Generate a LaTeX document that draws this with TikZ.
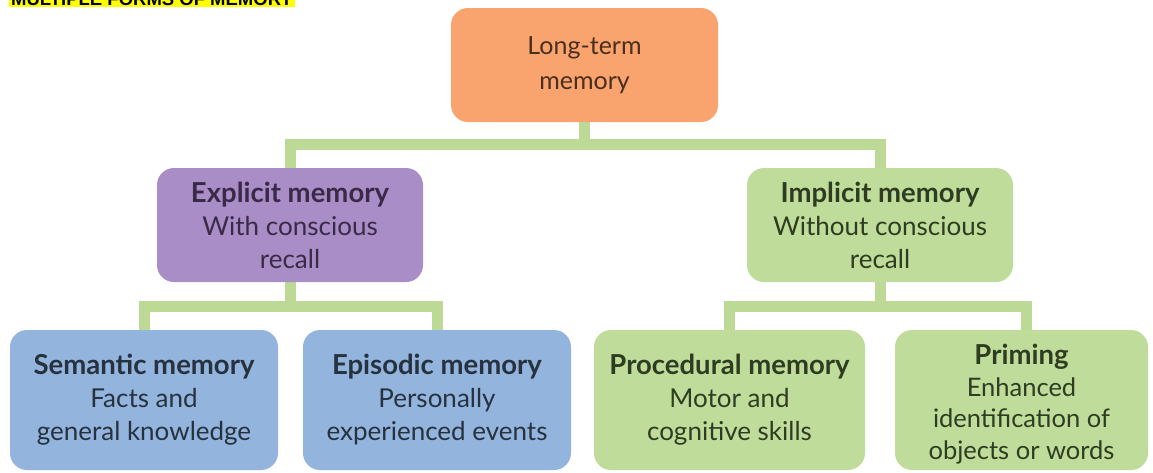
\documentclass[tikz,border=0pt]{standalone}
\usepackage{fontspec}
\setmainfont{Lato}
\newfontfamily\titlefont{Liberation Sans}
\usetikzlibrary{backgrounds}
\definecolor{orangeF}{HTML}{F9A46E}
\definecolor{purpleF}{HTML}{A98DC6}
\definecolor{blueF}{HTML}{93B4DD}
\definecolor{greenF}{HTML}{C0DC9A}
\definecolor{connC}{HTML}{BCD996}
\definecolor{orangeT}{HTML}{4A2E1E}
\definecolor{purpleT}{HTML}{3A2A48}
\definecolor{blueT}{HTML}{27323F}
\definecolor{greenT}{HTML}{2E3D22}
\definecolor{hiY}{HTML}{FFFF00}
\newcommand{\hd}[1]{{\fontsize{27.5}{33}\selectfont\bfseries #1}}
\tikzset{
  box/.style={rounded corners=17pt, inner sep=0pt, align=center,
    font=\fontsize{26}{33}\selectfont},
  conn/.style={draw=connC, line width=11pt, line join=miter, line cap=butt},
}
\begin{document}
\begin{tikzpicture}[x=1pt,y=-1pt]
\useasboundingbox (0,0) rectangle (1153,472);
\clip (0,0) rectangle (1153,472);
\node[fill=hiY, anchor=south west, inner xsep=2pt, inner ysep=2pt,
  font=\titlefont\bfseries\fontsize{18.5}{18.5}\selectfont, text depth=0pt] (title) at (9,7.5) {MULTIPLE FORMS OF MEMORY};
\node[box, fill=orangeF, text=orangeT, minimum width=267pt, minimum height=114pt,
  font=\fontsize{25}{35}\selectfont] (top) at (584.5,65) {Long-term\\memory};
\node[box, fill=purpleF, text=purpleT, minimum width=266pt, minimum height=114pt] (explicit) at (290,225)
  {\hd{Explicit memory}\\With conscious\\recall};
\node[box, fill=greenF, text=greenT, minimum width=266pt, minimum height=114pt] (implicit) at (880,225)
  {\hd{Implicit memory}\\Without conscious\\recall};
\node[box, fill=blueF, text=blueT, minimum width=268pt, minimum height=140pt] (semantic) at (144,400)
  {\hd{Semantic memory}\\Facts and\\general knowledge};
\node[box, fill=blueF, text=blueT, minimum width=268pt, minimum height=140pt] (episodic) at (437,400)
  {\hd{Episodic memory}\\Personally\\experienced events};
\node[box, fill=greenF, text=greenT, minimum width=271pt, minimum height=140pt] (procedural) at (729.5,400)
  {\hd{Procedural memory}\\Motor and\\cognitive skills};
\node[box, fill=greenF, text=greenT, minimum width=253pt, minimum height=140pt,
  font=\fontsize{25.5}{31.5}\selectfont] (priming) at (1021.5,400)
  {\rule{0pt}{29pt}\hd{Priming}\\Enhanced\\identification of\\objects or words};
\coordinate (barT) at (0,144);
\coordinate (barB) at (0,306);
\coordinate (primStem) at ([xshift=4.5pt]priming.north);
\begin{scope}[on background layer]
\fill[white] (0,0) rectangle (1153,472);
\draw[conn] (top.south) -- (top.south |- barT);
\draw[conn] (explicit.north) -- (explicit.north |- barT) -- (implicit.north |- barT) -- (implicit.north);
\draw[conn] (explicit.south) -- (explicit.south |- barB);
\draw[conn] (semantic.north) -- (semantic.north |- barB) -- (episodic.north |- barB) -- (episodic.north);
\draw[conn] (implicit.south) -- (implicit.south |- barB);
\draw[conn] (procedural.north) -- (procedural.north |- barB) -- (primStem |- barB) -- (primStem);
\end{scope}
\end{tikzpicture}
\end{document}
